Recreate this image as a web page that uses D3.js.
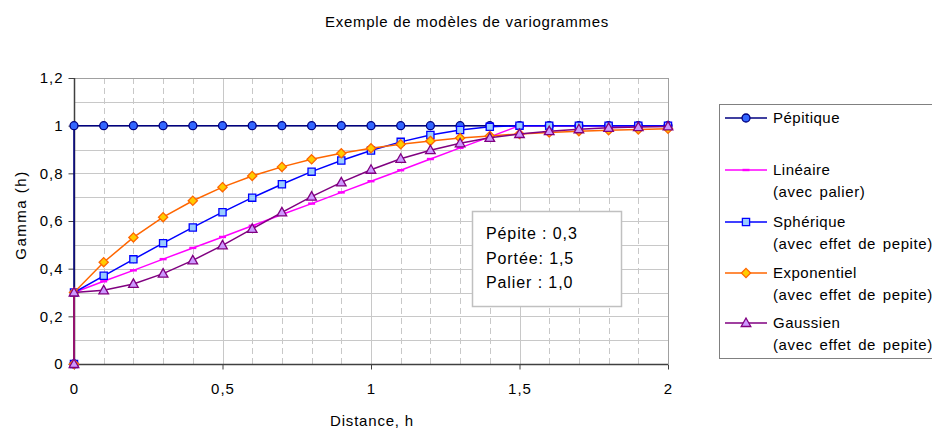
<!DOCTYPE html>
<html>
<head>
<meta charset="utf-8">
<script src="https://cdn.jsdelivr.net/npm/d3@7"></script>
<style>
  html, body { margin: 0; padding: 0; background: #fff; }
  svg { display: block; font-family: "Liberation Sans", Arial, sans-serif; }
</style>
</head>
<body>
<svg id="chart" width="932" height="430"></svg>
<script>
// ---------- data ----------
const distances = [0, 0, 0.1, 0.2, 0.3, 0.4, 0.5, 0.6, 0.7, 0.8, 0.9, 1.0,
                   1.1, 1.2, 1.3, 1.4, 1.5, 1.6, 1.7, 1.8, 1.9, 2.0];
const pepitique   = [0, 1, 1, 1, 1, 1, 1, 1, 1, 1, 1, 1, 1, 1, 1, 1, 1, 1, 1, 1, 1, 1];
const lineaire    = [0, 0.3, 0.347, 0.393, 0.44, 0.487, 0.533, 0.58, 0.627, 0.673, 0.72, 0.767,
                     0.813, 0.86, 0.907, 0.953, 1.0, 1.0, 1.0, 1.0, 1.0, 1.0];
const spherique   = [0, 0.3, 0.370, 0.439, 0.507, 0.573, 0.637, 0.698, 0.754, 0.807, 0.854, 0.896,
                     0.932, 0.961, 0.982, 0.995, 1.0, 1.0, 1.0, 1.0, 1.0, 1.0];
const exponentiel = [0, 0.3, 0.427, 0.531, 0.616, 0.685, 0.742, 0.789, 0.827, 0.859, 0.884, 0.905,
                     0.922, 0.936, 0.948, 0.957, 0.965, 0.971, 0.977, 0.981, 0.984, 0.987];
const gaussien    = [0, 0.3, 0.309, 0.336, 0.379, 0.435, 0.498, 0.567, 0.636, 0.702, 0.762, 0.815,
                     0.861, 0.897, 0.926, 0.949, 0.965, 0.977, 0.985, 0.991, 0.994, 0.997];

const seriesNames = ["Pépitique", "Linéaire", "Sphérique", "Exponentiel", "Gaussien"];
const seriesSub   = [null, "(avec palier)", "(avec effet de pepite)", "(avec effet de pepite)", "(avec effet de pepite)"];
const xTicks = [0, 0.5, 1, 1.5, 2];
const yTicks = [0, 0.2, 0.4, 0.6, 0.8, 1.0, 1.2];
const annotation = ["Pépite : 0,3", "Portée: 1,5", "Palier : 1,0"];
const title = "Exemple de modèles de variogrammes";
const xTitle = "Distance, h";
const yTitle = "Gamma (h)";

// ---------- styles ----------
const styles = [
  { line: "#000080", fill: "#3366ff", stroke: "#000080", shape: "circle" },
  { line: "#ff00ff", fill: "#ff00ff", stroke: "#ff00ff", shape: "dash" },
  { line: "#0000ff", fill: "#99ccff", stroke: "#0000ff", shape: "square" },
  { line: "#ff6600", fill: "#ffcc00", stroke: "#ff6600", shape: "diamond" },
  { line: "#800080", fill: "#cc99ff", stroke: "#800080", shape: "triangle" }
];
const allValues = [pepitique, lineaire, spherique, exponentiel, gaussien];

const svg = d3.select("#chart");
const M = { left: 74, right: 668, top: 78, bottom: 364 };
const x = d3.scaleLinear().domain([0, 2]).range([M.left, M.right]);
const y = d3.scaleLinear().domain([0, 1.2]).range([M.bottom, M.top]);
const fmt = d => d3.format("~g")(d).replace(".", ",");

// gridlines
const g = svg.append("g");
g.selectAll("line.hgrid").data(d3.range(1, 12).map(i => i / 10))
  .join("line").attr("x1", M.left).attr("x2", M.right)
  .attr("y1", d => Math.round(y(d)) + 0.5).attr("y2", d => Math.round(y(d)) + 0.5)
  .attr("stroke", "#c8c8c8").attr("stroke-width", 1);
g.selectAll("line.vgrid").data(d3.range(1, 20).map(i => i / 10))
  .join("line")
  .attr("x1", d => Math.round(x(d)) + 0.5).attr("x2", d => Math.round(x(d)) + 0.5)
  .attr("y1", M.top).attr("y2", M.bottom)
  .attr("stroke", "#c8c8c8").attr("stroke-width", 1)
  .attr("stroke-dasharray", (d, i) => ((i + 1) % 5 === 0) ? null : "6,4");
// top & right border
g.append("line").attr("x1", M.left).attr("x2", M.right).attr("y1", M.top + 0.5).attr("y2", M.top + 0.5)
  .attr("stroke", "#a0a0a0");
g.append("line").attr("x1", M.right + 0.5).attr("x2", M.right + 0.5).attr("y1", M.top).attr("y2", M.bottom)
  .attr("stroke", "#a0a0a0");

// axes
const yAxis = d3.axisLeft(y).tickValues(yTicks).tickFormat(fmt).tickSize(6).tickPadding(5);
const xAxis = d3.axisBottom(x).tickValues(xTicks).tickFormat(fmt).tickSize(5).tickPadding(14);
const ya = svg.append("g").attr("transform", `translate(${M.left + 0.5},0)`).call(yAxis);
const xa = svg.append("g").attr("transform", `translate(0,${M.bottom + 0.5})`).call(xAxis);
[ya, xa].forEach(a => {
  a.select(".domain").attr("stroke", "#404040").attr("stroke-width", 1.5);
  a.selectAll(".tick line").attr("stroke", "#404040");
  a.selectAll(".tick text").attr("fill", "#000").style("font-size", "15px")
   .style("letter-spacing", "1px")
   .style("font-family", "'Liberation Sans', Arial, sans-serif");
});
xa.select(".domain").attr("d", `M${M.left},0H${M.right}`);
ya.select(".domain").attr("d", `M0,${M.top}V${M.bottom}`);

// series
function symbolPath(shape) {
  switch (shape) {
    case "circle": return d3.symbol(d3.symbolCircle, 50)();
    case "square": return "M-3.6,-3.6H3.6V3.6H-3.6Z";
    case "diamond": return "M0,-4.6L4.6,0L0,4.6L-4.6,0Z";
    case "triangle": return "M0,-5L4.8,3.5H-4.8Z";
    case "dash": return "M-3.5,-1.2H3.5V1.2H-3.5Z";
  }
}
const line = d3.line().x(d => x(d[0])).y(d => y(d[1]));
allValues.forEach((vals, si) => {
  const st = styles[si];
  const pts = distances.map((d, i) => [d, vals[i]]);
  const sg = svg.append("g");
  sg.append("path").datum(pts).attr("d", line).attr("fill", "none")
    .attr("stroke", st.line).attr("stroke-width", 1.5);
  sg.selectAll("path.m").data(pts).join("path")
    .attr("transform", d => `translate(${x(d[0])},${y(d[1])})`)
    .attr("d", symbolPath(st.shape))
    .attr("fill", st.fill)
    .attr("stroke", st.shape === "dash" ? "none" : st.stroke)
    .attr("stroke-width", 1.3);
});

// annotation box
const ab = svg.append("g").attr("transform", "translate(472,211)");
ab.append("rect").attr("x", 0.5).attr("y", 0.5).attr("width", 149).attr("height", 95)
  .attr("fill", "#fff").attr("stroke", "#c0c0c0").attr("stroke-width", 1.5);
ab.selectAll("text").data(annotation).join("text")
  .attr("x", 14).attr("y", (d, i) => 28 + i * 24.5)
  .style("font-size", "16px").style("letter-spacing", "0.9px").attr("fill", "#000").text(d => d);

// titles
svg.append("text").attr("x", 467).attr("y", 27).attr("text-anchor", "middle")
  .style("font-size", "15px").style("letter-spacing", "0.7px").text(title);
svg.append("text").attr("x", (M.left + M.right) / 2 + 1).attr("y", 426).attr("text-anchor", "middle")
  .style("font-size", "15px").style("letter-spacing", "0.8px").text(xTitle);
svg.append("text").attr("transform", `translate(26,${(M.top + M.bottom) / 2 - 6}) rotate(-90)`)
  .attr("text-anchor", "middle").style("font-size", "15px").style("letter-spacing", "1.5px").text(yTitle);

// legend
const lg = svg.append("g").attr("transform", "translate(719,104)");
lg.append("rect").attr("x", 0.5).attr("y", 0.5).attr("width", 240).attr("height", 254)
  .attr("fill", "#fff").attr("stroke", "#808080").attr("stroke-width", 1);
const rowY = [14, 66, 118, 169, 219];
seriesNames.forEach((name, i) => {
  const st = styles[i];
  const r = lg.append("g").attr("transform", `translate(0,${rowY[i]})`);
  r.append("line").attr("x1", 6).attr("x2", 48).attr("y1", 0).attr("y2", 0)
    .attr("stroke", st.line).attr("stroke-width", 1.5);
  r.append("path").attr("transform", "translate(27,0)").attr("d", symbolPath(st.shape))
    .attr("fill", st.fill).attr("stroke", st.shape === "dash" ? "none" : st.stroke).attr("stroke-width", 1.3);
  r.append("text").attr("x", 54).attr("y", 5).style("font-size", "15px")
    .style("letter-spacing", "0.5px").text(name);
  if (seriesSub[i]) r.append("text").attr("x", 54).attr("y", 27).style("font-size", "15px")
    .style("letter-spacing", "0.6px").style("word-spacing", "2px").text(seriesSub[i]);
});
</script>
</body>
</html>
